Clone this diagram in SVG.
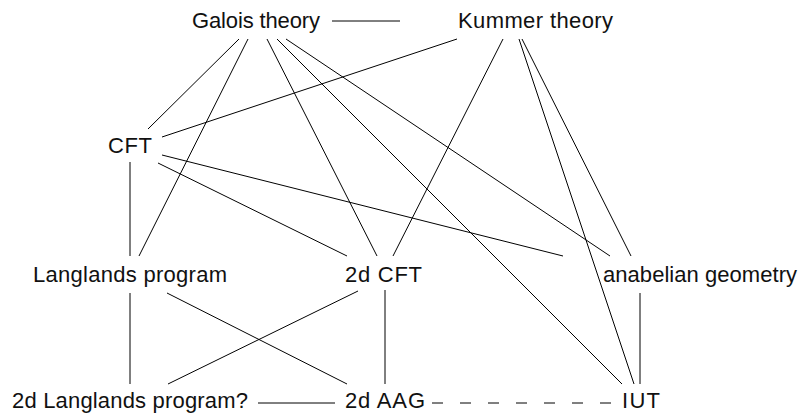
<svg xmlns="http://www.w3.org/2000/svg" width="804" height="413" viewBox="0 0 804 413">
<style>
text{font-family:"Liberation Sans",Arial,sans-serif;font-size:22px;fill:#111;text-anchor:middle}
.e line{stroke:#000;stroke-width:1;fill:none}
.d{stroke-dasharray:11 17}
</style>
<rect width="804" height="413" fill="#fff"/>
<g class="e" id="connectors">
<line x1="332" y1="21" x2="400" y2="21"/>
<line x1="239" y1="39" x2="148" y2="129"/>
<line x1="248" y1="39" x2="139" y2="256"/>
<line x1="267" y1="39" x2="377" y2="256"/>
<line x1="277" y1="39" x2="622" y2="384"/>
<line x1="286" y1="39" x2="610" y2="256"/>
<line x1="457" y1="39" x2="162" y2="137"/>
<line x1="503" y1="39" x2="393" y2="256"/>
<line x1="519" y1="39" x2="634" y2="384"/>
<line x1="522" y1="39" x2="631" y2="256"/>
<line x1="130" y1="162" x2="130" y2="256"/>
<line x1="158" y1="163" x2="347" y2="256"/>
<line x1="162" y1="155" x2="563" y2="256"/>
<line x1="130" y1="293" x2="130" y2="384"/>
<line x1="167" y1="293" x2="347" y2="384"/>
<line x1="358" y1="291" x2="168" y2="384"/>
<line x1="385" y1="290" x2="385" y2="384"/>
<line x1="640" y1="293" x2="640" y2="384"/>
<line x1="258" y1="403" x2="335" y2="403"/>
<line class="d" x1="432" y1="403" x2="612" y2="403"/>
</g>
<g id="galois"><text x="256" y="28" textLength="128">Galois theory</text></g>
<g id="kummer"><text x="535.5" y="28" textLength="155">Kummer theory</text></g>
<g id="cft"><text x="130" y="153" textLength="44">CFT</text></g>
<g id="langlands"><text x="130" y="282" textLength="194">Langlands program</text></g>
<g id="cft2d"><text x="383.5" y="282" textLength="77">2d CFT</text></g>
<g id="anabelian"><text x="700" y="282" textLength="194">anabelian geometry</text></g>
<g id="langlands2d"><text x="130" y="408" textLength="236">2d Langlands program?</text></g>
<g id="aag2d"><text x="385" y="408" textLength="80">2d AAG</text></g>
<g id="iut"><text x="641" y="408" textLength="38">IUT</text></g>
</svg>
